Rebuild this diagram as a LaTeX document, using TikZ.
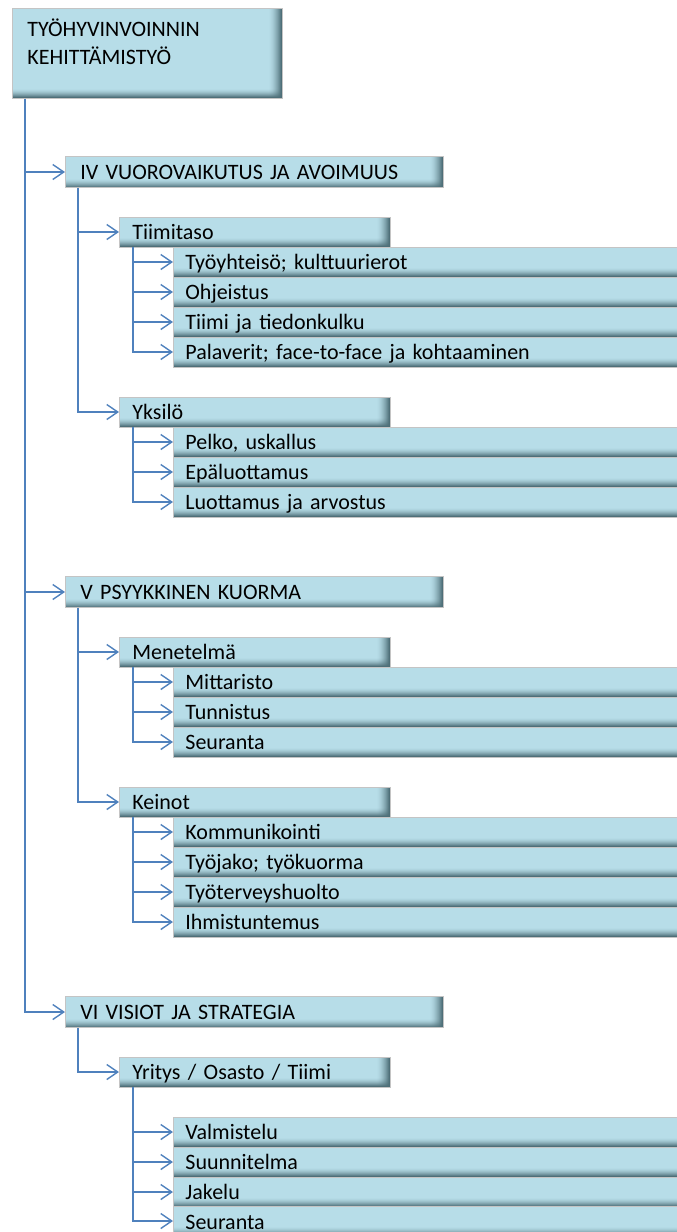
\documentclass[tikz,border=0pt]{standalone}
\usepackage{fontspec}
\setmainfont{Carlito}
\usetikzlibrary{arrows.meta,calc}
\definecolor{boxfill}{HTML}{B7DDE8}
\definecolor{boxdark}{HTML}{4E6F78}
\definecolor{boxedge}{HTML}{C4C4C4}
\definecolor{linkblue}{HTML}{4F81BD}

\newcommand{\boxfont}{\fontsize{22}{28}\selectfont\spaceskip=0.13em plus 0.02em\relax}

\tikzset{
  basebox/.style={draw=boxedge, line width=0.8pt, fill=boxfill, rectangle,
    inner ysep=0pt, align=left, font=\boxfont,
    path picture={
      % darkening towards the right edge
      \foreach \i in {1,...,13}{
        \pgfmathsetmacro\op{(\i/13)^1.7}
        \fill[boxdark, fill opacity=\op]
          ([xshift={(\i-14)*1pt}]path picture bounding box.north east)
          rectangle ([xshift={(\i-13)*1pt}]path picture bounding box.south east);
      }
      % darkening towards the bottom edge
      \foreach \i in {1,...,9}{
        \pgfmathsetmacro\op{(\i/9)^1.7}
        \fill[boxdark, fill opacity=\op]
          ([yshift={(10-\i)*1pt}]path picture bounding box.south west)
          rectangle ([yshift={(9-\i)*1pt}]path picture bounding box.south east);
      }
    }},
  rootbox/.style={basebox, anchor=north west, minimum width=270, minimum height=90,
    inner xsep=15pt, text width=240},
  lvlone/.style={basebox, anchor=west, minimum height=31, inner xsep=15pt,
    text width=348, text height=18pt, text depth=4pt},
  lvltwo/.style={basebox, anchor=west, minimum height=30, inner xsep=13pt,
    text width=245, text height=18pt, text depth=4pt},
  leafbox/.style={basebox, anchor=west, minimum height=30, inner xsep=12pt,
    text width=496, text height=18pt, text depth=4pt},
  link/.style={draw=linkblue, line width=1.4pt,
    -{Straight Barb[length=11pt,width=15pt]}},
}

\begin{document}
\begin{tikzpicture}[x=1pt, y=-1pt]
\useasboundingbox (0,0) rectangle (677,1232);
\clip (0,0) rectangle (677,1232);

% top of the hierarchy
\node[rootbox] (root) at (12,8)
  {TYÖHYVINVOINNIN\\KEHITTÄMISTYÖ\rule[-24pt]{0pt}{24pt}};

% IV
\node[lvlone] (iv) at (65,172) {IV VUOROVAIKUTUS JA AVOIMUUS};
\node[lvltwo] (tiimi) at (119,232) {Tiimitaso};
\node[leafbox] (t1) at (173,262) {Työyhteisö; kulttuurierot};
\node[leafbox] (t2) at (173,292) {Ohjeistus};
\node[leafbox] (t3) at (173,322) {Tiimi ja tiedonkulku};
\node[leafbox] (t4) at (173,352) {Palaverit; face-to-face ja kohtaaminen};
\node[lvltwo] (yks) at (119,412) {Yksilö};
\node[leafbox] (y1) at (173,442) {Pelko, uskallus};
\node[leafbox] (y2) at (173,472) {Epäluottamus};
\node[leafbox] (y3) at (173,502) {Luottamus ja arvostus};

% V
\node[lvlone] (v) at (65,592) {V PSYYKKINEN KUORMA};
\node[lvltwo] (men) at (119,652) {Menetelmä};
\node[leafbox] (m1) at (173,682) {Mittaristo};
\node[leafbox] (m2) at (173,712) {Tunnistus};
\node[leafbox] (m3) at (173,742) {Seuranta};
\node[lvltwo] (kei) at (119,802) {Keinot};
\node[leafbox] (k1) at (173,832) {Kommunikointi};
\node[leafbox] (k2) at (173,862) {Työjako; työkuorma};
\node[leafbox] (k3) at (173,892) {Työterveyshuolto};
\node[leafbox] (k4) at (173,922) {Ihmistuntemus};

% VI
\node[lvlone] (vi) at (65,1012) {VI VISIOT JA STRATEGIA};
\node[lvltwo] (yri) at (119,1072) {Yritys / Osasto / Tiimi};
\node[leafbox] (r1) at (173,1132) {Valmistelu};
\node[leafbox] (r2) at (173,1162) {Suunnitelma};
\node[leafbox] (r3) at (173,1192) {Jakelu};
\node[leafbox, text depth=2pt] (r4) at (173,1221) {Seuranta};

% connectors
\foreach \n in {iv,v,vi}
  \draw[link] ([xshift=13pt]root.south west) |- (\n.west);

\foreach \n in {tiimi,yks}
  \draw[link] ([xshift=13pt]iv.south west) |- (\n.west);
\foreach \n in {men,kei}
  \draw[link] ([xshift=13pt]v.south west) |- (\n.west);
\draw[link] ([xshift=13pt]vi.south west) |- (yri.west);

\foreach \n in {t1,t2,t3,t4}
  \draw[link] ([xshift=14pt]tiimi.south west) |- (\n.west);
\foreach \n in {y1,y2,y3}
  \draw[link] ([xshift=14pt]yks.south west) |- (\n.west);
\foreach \n in {m1,m2,m3}
  \draw[link] ([xshift=14pt]men.south west) |- (\n.west);
\foreach \n in {k1,k2,k3,k4}
  \draw[link] ([xshift=14pt]kei.south west) |- (\n.west);
\foreach \n in {r1,r2,r3,r4}
  \draw[link] ([xshift=14pt]yri.south west) |- (\n.west);
\end{tikzpicture}
\end{document}
